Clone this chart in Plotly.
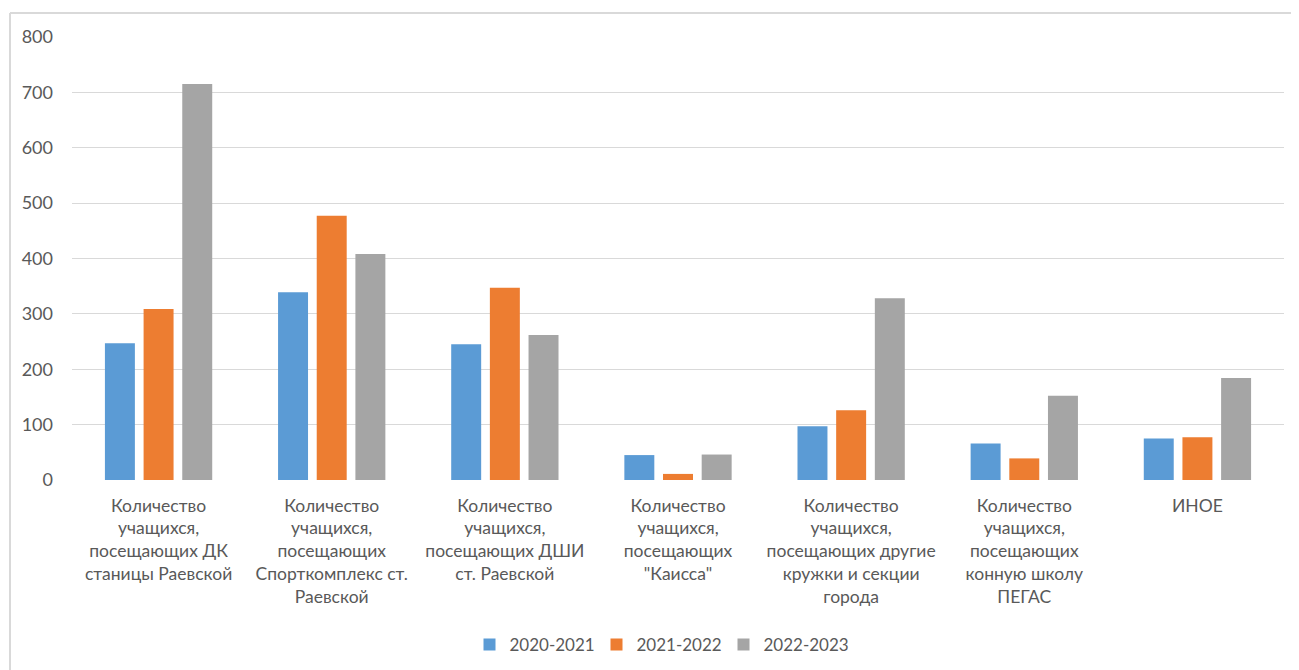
import plotly.graph_objects as go

categories = [
    "Количество<br>учащихся,<br>посещающих ДК<br>станицы Раевской",
    "Количество<br>учащихся,<br>посещающих<br>Спорткомплекс ст.<br>Раевской",
    "Количество<br>учащихся,<br>посещающих ДШИ<br>ст. Раевской",
    "Количество<br>учащихся,<br>посещающих<br>\"Каисса\"",
    "Количество<br>учащихся,<br>посещающих другие<br>кружки и секции<br>города",
    "Количество<br>учащихся,<br>посещающих<br>конную школу<br>ПЕГАС",
    "ИНОЕ",
]
series_names = ["2020-2021", "2021-2022", "2022-2023"]
values_2020_2021 = [247, 339, 245, 45, 97, 66, 75]
values_2021_2022 = [309, 477, 347, 11, 126, 39, 77]
values_2022_2023 = [715, 408, 262, 46, 328, 152, 184]
colors = ["#5B9BD5", "#ED7D31", "#A5A5A5"]
y_ticks = [0, 100, 200, 300, 400, 500, 600, 700, 800]

FONT = "Lato"
TXT = "#595959"

fig = go.Figure()
for name, vals, col in zip(series_names, [values_2020_2021, values_2021_2022, values_2022_2023], colors):
    fig.add_trace(go.Bar(x=categories, y=vals, name=name,
                         marker=dict(color=col, line=dict(width=0))))

# page body has an 8px margin; lay out in reference (window) coordinates
OFF = 8
W, H = 1299, 670
L, T = 72 - OFF, 37 - OFF
B = H - (480 - OFF)
R = W - (1284 - OFF)
pw, ph = W - L - R, H - T - B

def px(x):
    return (x - OFF - L) / pw

def py(y):
    return (H - B - (y - OFF)) / ph

fig.update_layout(
    width=W, height=H,
    margin=dict(l=L, r=R, t=T, b=B),
    paper_bgcolor="white", plot_bgcolor="white",
    font=dict(family=FONT, size=16, color=TXT),
    barmode="group", bargap=0.33, bargroupgap=0.225,
    showlegend=True,
    legend=dict(orientation="h", x=px(660), xanchor="center", y=py(645), yanchor="middle",
                font=dict(family=FONT, size=17, color=TXT), traceorder="normal",
                itemwidth=30, entrywidth=82),
    xaxis=dict(showgrid=False, showline=False, ticks="", tickangle=0,
               tickfont=dict(family=FONT, size=17.5, color=TXT), ticklabelstandoff=13),
    yaxis=dict(range=[0, 800], tickvals=y_ticks, showgrid=True, gridcolor="#D9D9D9",
               gridwidth=1, zeroline=False, showline=False, ticks="",
               tickfont=dict(family=FONT, size=18, color=TXT), ticklabelstandoff=18),
    shapes=[
        dict(type="line", xref="paper", yref="paper", x0=px(10), x1=px(10), y0=py(680), y1=py(13),
             line=dict(color="#D9D9D9", width=2)),
        dict(type="line", xref="paper", yref="paper", x0=px(10), x1=px(1310), y0=py(13), y1=py(13),
             line=dict(color="#D9D9D9", width=2)),
    ],
)

fig.write_html("out.html")
